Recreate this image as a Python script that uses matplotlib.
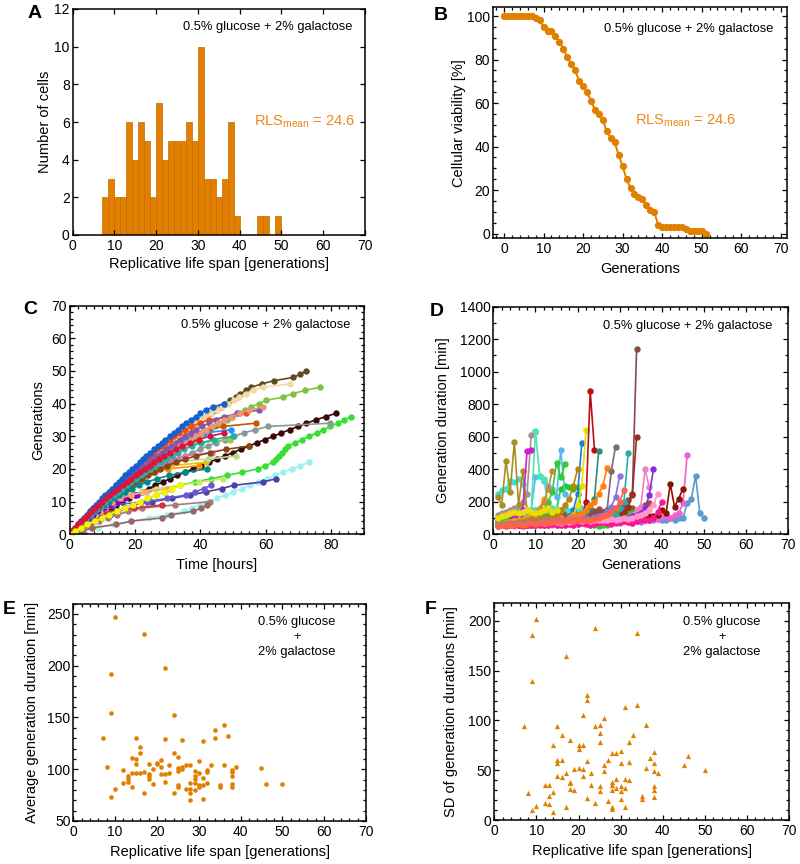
import numpy as np
import matplotlib
matplotlib.use("Agg")
import matplotlib.pyplot as plt
from matplotlib.ticker import MultipleLocator

plt.rcParams['font.family'] = ['Liberation Sans', 'DejaVu Sans']
plt.rcParams['mathtext.fontset'] = 'custom'
plt.rcParams['mathtext.rm'] = 'Liberation Sans'
plt.rcParams['mathtext.it'] = 'Liberation Sans:italic'

ORANGE = '#e07f00'
TXT_OR = '#e8891a'

# ---------------- Panel A: histogram of replicative life span ----------------
rls_min, rls_max = 7, 50
hist_counts = [2, 3, 2, 2, 6, 4, 6, 5, 2, 7, 4, 5, 5, 5, 6, 5, 10, 3, 3, 2,
               3, 6, 1, 0, 0, 0, 1, 1, 0, 1]

# ---------------- Panel B: survival curve ----------------
viability = [100, 100, 100, 100, 100, 100, 100, 100, 99, 98,
             95, 93, 93, 91, 88, 85, 81, 78, 75, 70,
             68, 65, 61, 57, 55, 52, 47, 44, 42, 36,
             31, 25, 21, 18, 17, 16, 13, 11, 10, 4,
             3, 3, 3, 3, 3, 3, 2, 1, 1, 1, 1, 0]

# ---------------- Panels C/D: generation durations [min] per cell ----------------
dur_01 = [70, 60, 65, 55, 60, 65, 70, 60, 65, 60, 65, 70, 60, 65, 70, 60, 65, 70, 75, 65,
          70, 75, 70, 80, 75, 70, 75, 80, 75, 70, 80, 75, 70, 80, 75, 85, 90, 85, 95, 90,
          85, 100, 90, 100, 100, 190, 220, 360, 130, 100]
dur_02 = [60, 55, 65, 60, 55, 60, 65, 60, 55, 60, 65, 60, 70, 65, 60, 65, 70, 65, 60, 70,
          75, 70, 65, 75, 80, 70, 75, 80, 85, 75, 80, 85, 90, 85, 80, 95, 90, 100, 95, 105,
          110, 100, 120, 130, 190, 490]
dur_03 = [65, 60, 70, 65, 60, 70, 75, 65, 70, 75, 70, 80, 75, 70, 80, 85, 75, 80, 85, 90,
          80, 85, 90, 95, 85, 90, 95, 100, 90, 95, 100, 105, 95, 100, 110, 105, 115, 110, 120,
          150, 130, 310, 170, 220, 280]
dur_04 = [80, 90, 85, 95, 100, 90, 105, 110, 100, 115, 120, 110, 125, 130, 120, 135, 130, 140, 135,
          150, 145, 140, 150, 145, 155, 140, 150, 145, 155, 150, 145, 150, 160, 150, 170, 180, 190]
dur_05 = [100, 110, 120, 130, 140, 140, 150, 130, 140, 150, 135, 140, 145, 140, 150,
          280, 300, 290, 280, 290, 130, 140, 60, 55, 50, 60, 55,
          130, 125, 135, 130, 125, 130, 135, 120, 130]
dur_06 = [250, 270, 280, 330, 320, 340, 310, 150, 145, 150, 160, 150, 145, 160, 155, 150,
          160, 145, 150, 155, 160, 155]
dur_07 = [100, 110, 120, 130, 140, 150, 130, 140, 150, 350, 360, 330, 300, 280, 230, 520, 250]
dur_08 = [120, 130, 140, 150, 160, 180, 200, 250, 610, 630]
dur_09 = [230, 180, 450, 260, 570, 180, 390, 150, 120]
dur_10 = [70, 80, 75, 85, 80, 90, 85, 90, 140, 635, 360, 340, 180, 150, 140]
dur_11 = [70, 75, 80, 90, 100, 110, 150, 510, 520]
dur_12 = [60, 65, 70, 60, 65, 70, 75, 70, 80, 75, 80, 85, 90, 80, 85, 90, 100, 110, 150, 250, 560]
dur_13 = [55, 60, 65, 60, 55, 60, 65, 70, 60, 65, 70, 75, 70, 80, 75, 80, 90, 100, 120, 180, 300, 640]
dur_14 = [60, 55, 60, 65, 60, 55, 60, 65, 70, 60, 65, 70, 65, 70, 75, 70, 80, 75, 85, 90,
          100, 200, 880, 520]
dur_15 = [60, 65, 60, 70, 65, 70, 75, 70, 80, 75, 85, 80, 90, 85, 95, 90, 100, 95, 105, 110,
          115, 120, 125, 130, 140, 135, 150, 145, 160, 170, 180, 210, 240, 1140]
dur_16 = [60, 55, 60, 55, 60, 65, 60, 65, 60, 65, 70, 65, 70, 65, 70, 75, 70, 75, 80, 75,
          80, 85, 80, 90, 85, 90, 95, 100, 110, 120, 140, 170, 250, 600]
dur_17 = [60, 65, 60, 70, 65, 60, 70, 65, 75, 70, 75, 70, 80, 75, 80, 85, 80, 90, 95, 100,
          110, 130, 160, 220, 510]
dur_18 = [55, 60, 65, 60, 55, 60, 65, 70, 65, 60, 70, 65, 70, 75, 70, 65, 75, 70, 80, 75,
          80, 85, 90, 85, 95, 100, 150, 390, 540]
dur_19 = [55, 60, 55, 60, 65, 60, 55, 60, 65, 70, 65, 60, 65, 70, 75, 70, 65, 70, 75, 80,
          75, 80, 85, 80, 90, 85, 95, 100, 120, 160, 200, 500]
dur_20 = [50, 55, 60, 55, 50, 55, 60, 55, 60, 55, 60, 65, 60, 55, 60, 65, 60, 65, 70, 65,
          70, 65, 70, 75, 70, 75, 80, 75, 80, 85, 90, 100, 120, 150, 170, 400, 290]
dur_21 = [55, 60, 55, 60, 55, 60, 65, 60, 65, 60, 65, 70, 65, 70, 65, 70, 75, 70, 75, 80,
          75, 80, 75, 80, 85, 80, 85, 90, 85, 90, 95, 100, 110, 120, 130, 160, 240, 400]
dur_22 = [50, 55, 50, 55, 60, 55, 50, 55, 60, 55, 60, 55, 60, 65, 60, 55, 60, 65, 60, 65,
          70, 65, 60, 65, 70, 75, 70, 65, 70, 75, 80, 75, 70, 80, 85, 90, 85, 100, 140, 200]
dur_23 = [65, 60, 65, 70, 65, 70, 65, 70, 75, 70, 75, 70, 75, 80, 75, 70, 80, 75, 80, 85,
          80, 85, 80, 90, 85, 90, 85, 95, 90, 95, 100, 95, 100, 110, 120, 130, 150, 180, 250]
dur_24 = [60, 65, 70, 65, 70, 75, 70, 80, 75, 80, 85, 80, 90, 85, 95, 100, 90, 100, 110, 120,
          130, 150, 180, 200, 250, 300, 410]
dur_25 = [70, 75, 80, 75, 80, 90, 85, 95, 100, 110, 120, 150, 200, 260, 440, 350, 430]
dur_26 = [60, 65, 70, 75, 80, 85, 90, 100, 110, 130, 160, 220]
dur_27 = [55, 60, 65, 60, 70, 75, 80, 90, 100, 120, 150, 200, 280, 390]
dur_28 = [60, 65, 60, 70, 65, 75, 70, 80, 85, 90, 95, 100, 110, 120, 130, 150, 180, 220, 300, 400]
dur_29 = [55, 60, 65, 60, 65, 70, 65, 70, 75, 70, 75, 80, 75, 80, 85, 80, 85, 90, 85, 90,
          95, 100, 95, 105, 110, 120, 140, 170, 230, 360]
dur_30 = [50, 55, 60, 55, 60, 65, 60, 65, 70, 65, 70, 75, 70, 75, 80, 75, 80, 85, 80, 85,
          90, 85, 90, 95, 100, 110, 120, 140, 160, 200, 270]
dur_31 = [100, 110, 120, 130, 140, 130, 140, 150, 140, 130, 140, 150, 160, 140, 150]

cells = [dur_01, dur_02, dur_03, dur_04, dur_05, dur_06, dur_07, dur_08, dur_09, dur_10,
         dur_11, dur_12, dur_13, dur_14, dur_15, dur_16, dur_17, dur_18, dur_19, dur_20,
         dur_21, dur_22, dur_23, dur_24, dur_25, dur_26, dur_27, dur_28, dur_29, dur_30, dur_31]

colors_C = ['#5b4d1c', '#f2dba6', '#7dc242', '#3a0808', '#33e033', '#a0f0f0', '#4b3fa6', '#a87880',
            '#996666', '#6a5acd', '#d03040', '#ff8c00', '#e8c000', '#b8d890', '#8a9a9a', '#cc5500',
            '#ff69b4', '#9acd32', '#1e90ff', '#ff4500', '#8855aa', '#1560d0', '#e9967a', '#8b4513',
            '#c8e86a', '#9400d3', '#ffa07a', '#008b8b', '#20b2aa', '#dc143c', '#f5f500']
colors_D = ['#5b9bd0', '#f060d0', '#8c1400', '#a0522d', '#22cc22', '#40e0d0', '#55bbee', '#a89090',
            '#a89020', '#48e8b0', '#d020d0', '#1a7ee0', '#e8e000', '#b81010', '#8b4a4a', '#993020',
            '#2e8b7a', '#7a6a80', '#20b2aa', '#f080c0', '#8a2be2', '#ff1493', '#ff99cc', '#ff7f0e',
            '#33cc33', '#ffa500', '#cd853f', '#b8860b', '#9370db', '#ff6347', '#eedd00']

# ---------------- Panel E: average generation duration vs RLS ----------------
E_rls = [7, 8, 9, 9, 9, 10, 10, 12, 12, 13, 13, 13, 14, 14, 14, 15, 15, 15, 15, 16, 16, 16,
         17, 17, 17, 18, 18, 18, 18, 19, 19, 20, 20, 21, 21, 21, 22, 22, 22, 22, 23, 23,
         24, 24, 24, 25, 25, 25, 25, 25, 26, 26, 26, 27, 27, 28, 28, 28, 28, 28,
         29, 29, 29, 29, 29, 30, 30, 30, 30, 31, 31, 31, 31, 32, 32, 32, 33, 34, 34,
         35, 35, 36, 36, 37, 38, 38, 38, 38, 38, 39, 45, 46, 50]
E_avg = [130, 102, 73, 154, 192, 247, 81, 99, 87, 93, 91, 88, 111, 96, 83, 130, 110, 105, 96,
         121, 116, 96, 231, 97, 77, 105, 95, 93, 91, 86, 100, 106, 105, 109, 102, 95,
         198, 129, 95, 88, 104, 96, 152, 116, 77, 112, 101, 98, 85, 83, 128, 102, 100,
         104, 81, 104, 87, 81, 77, 70, 98, 93, 91, 80, 87, 108, 96, 85, 83, 127, 92, 85, 71,
         99, 97, 87, 104, 138, 130, 85, 83, 143, 104, 132, 99, 97, 93, 86, 83, 102, 101, 86, 86]

# ---------------- Panel F: SD of generation durations vs RLS ----------------
F_rls = [7, 8, 9, 9, 9, 10, 10, 12, 12, 13, 13, 13, 14, 14, 14, 15, 15, 15, 15, 16, 16, 16,
         17, 17, 17, 18, 18, 18, 18, 19, 19, 20, 20, 20, 21, 21, 21, 21, 22, 22, 22, 22,
         23, 23, 24, 24, 24, 25, 25, 25, 25, 25, 26, 26, 26, 27, 27, 28, 28, 28, 28, 28, 28,
         29, 29, 29, 30, 30, 30, 30, 30, 31, 31, 31, 31, 32, 32, 32, 33, 34, 34, 35, 35,
         36, 36, 37, 38, 38, 38, 38, 38, 38, 39, 45, 46, 50]
F_sd = [94, 27, 186, 140, 10, 202, 14, 35, 17, 35, 24, 16, 75, 28, 8, 94, 60, 57, 44, 85, 60, 43,
        165, 47, 13, 80, 38, 37, 31, 51, 30, 75, 71, 52, 75, 105, 51, 44, 126, 121, 59, 22,
        47, 35, 193, 94, 17, 95, 87, 78, 34, 29, 102, 55, 49, 60, 19, 67, 38, 35, 30, 13, 11,
        67, 41, 32, 69, 57, 34, 29, 21, 114, 41, 32, 13, 78, 58, 40, 85, 188, 116, 24, 21,
        95, 52, 62, 68, 57, 49, 34, 30, 23, 47, 55, 64, 50]

COND = '0.5% glucose + 2% galactose'
RLS_TXT = r'RLS$_{\mathrm{mean}}$ = 24.6'

W, H = 800, 864
fig = plt.figure(figsize=(W / 100, H / 100), dpi=100)

TICK_FS = 10
LAB_FS = 10.5


def px_axes(l, t, r, b):
    return fig.add_axes([l / W, 1 - b / H, (r - l) / W, (b - t) / H])


def style(ax, minor_x=None, minor_y=None):
    ax.tick_params(which='both', direction='in', top=True, right=True, labelsize=TICK_FS,
                   length=3.5, width=0.9)
    ax.tick_params(axis='y', which='both', pad=2)
    ax.tick_params(axis='x', which='both', pad=3)
    ax.tick_params(which='minor', length=2)
    if minor_x:
        ax.xaxis.set_minor_locator(MultipleLocator(minor_x))
    if minor_y:
        ax.yaxis.set_minor_locator(MultipleLocator(minor_y))
    for s in ax.spines.values():
        s.set_linewidth(1.1)


def ftext(x, y, s, **kw):
    fig.text(x / W, 1 - y / H, s, **kw)


# Panel A
axA = px_axes(72.5, 9, 365, 235)
edges = np.linspace(rls_min, rls_max, len(hist_counts) + 1)
axA.bar(edges[:-1], hist_counts, width=np.diff(edges), align='edge', color=ORANGE,
        edgecolor='#c46c00', linewidth=0.5)
axA.set_xlim(0, 70)
axA.set_ylim(0, 12)
axA.set_xticks(range(0, 71, 10))
axA.set_yticks(range(0, 13, 2))
style(axA)
axA.set_xlabel('Replicative life span [generations]', fontsize=LAB_FS, labelpad=3)
axA.set_ylabel('Number of cells', fontsize=LAB_FS, labelpad=1.5)

# Panel B
axB = px_axes(493, 7.3, 787, 238)
gensB = np.arange(len(viability))
axB.plot(gensB, viability, '-o', color=ORANGE, lw=1.4, ms=4.2, mec=ORANGE)
axB.set_xlim(-2.8, 71.6)
axB.set_ylim(-2, 104)
axB.set_xticks(range(0, 71, 10))
axB.set_yticks(range(0, 101, 20))
style(axB, 2, 5)
axB.set_xlabel('Generations', fontsize=LAB_FS, labelpad=4)
axB.set_ylabel('Cellular viability [%]', fontsize=LAB_FS, labelpad=0.8)

# Panel C
axC = px_axes(69.5, 305.5, 364, 534.3)
for dur, col in zip(cells, colors_C):
    t = np.concatenate([[0], np.cumsum(dur)]) / 60.0
    g = np.arange(len(dur) + 1)
    axC.plot(t, g, '-o', color=col, lw=1.2, ms=3.6, mec=col)
axC.set_xlim(0, 90)
axC.set_ylim(0, 70)
axC.set_xticks(range(0, 81, 20))
axC.set_yticks(range(0, 71, 10))
style(axC, 2.5, 2)
axC.set_xlabel('Time [hours]', fontsize=LAB_FS, labelpad=4)
axC.set_ylabel('Generations', fontsize=LAB_FS, labelpad=4.5)

# Panel D
axD = px_axes(493.3, 306.7, 788.3, 534.3)
for dur, col in zip(cells, colors_D):
    g = np.arange(1, len(dur) + 1)
    axD.plot(g, dur, '-o', color=col, lw=1.2, ms=3.6, mec=col)
axD.set_xlim(0, 70)
axD.set_ylim(0, 1400)
axD.set_xticks(range(0, 71, 10))
axD.set_yticks(range(0, 1401, 200))
style(axD, 2, 100)
axD.set_xlabel('Generations', fontsize=LAB_FS, labelpad=4)
axD.set_ylabel('Generation duration [min]', fontsize=LAB_FS, labelpad=6.5)

# Panel E
axE = px_axes(73.3, 603.5, 366, 821)
axE.scatter(E_rls, E_avg, s=11, color=ORANGE, linewidths=0)
axE.set_xlim(0, 70)
axE.set_ylim(50, 260)
axE.set_xticks(range(0, 71, 10))
axE.set_yticks(range(50, 251, 50))
style(axE, 2, 10)
axE.set_xlabel('Replicative life span [generations]', fontsize=LAB_FS, labelpad=4)
axE.set_ylabel('Average generation duration [min]', fontsize=LAB_FS, labelpad=6)

# Panel F
axF = px_axes(494.3, 603, 789, 820)
axF.scatter(F_rls, F_sd, s=14, color=ORANGE, marker='^', linewidths=0)
axF.set_xlim(0, 70)
axF.set_ylim(0, 218)
axF.set_xticks(range(0, 71, 10))
axF.set_yticks(range(0, 201, 50))
style(axF, 2, 10)
axF.set_xlabel('Replicative life span [generations]', fontsize=LAB_FS, labelpad=4)
axF.set_ylabel('SD of generation durations [min]', fontsize=LAB_FS, labelpad=7.5)

# Annotations
ftext(352, 27, COND, fontsize=9.3, ha='right', va='center')
ftext(254, 122, RLS_TXT, fontsize=10.5, ha='left', va='center', color=TXT_OR)
ftext(773, 29, COND, fontsize=9.3, ha='right', va='center')
ftext(635, 121, RLS_TXT, fontsize=10.5, ha='left', va='center', color=TXT_OR)
ftext(350, 325, COND, fontsize=9.3, ha='right', va='center')
ftext(772, 326, COND, fontsize=9.3, ha='right', va='center')
ftext(297, 637, '0.5% glucose\n+\n2% galactose', fontsize=9.3, ha='center', va='center',
      linespacing=1.3)
ftext(722, 637, '0.5% glucose\n+\n2% galactose', fontsize=9.3, ha='center', va='center',
      linespacing=1.3)

# Panel letters
for lab, x, y in [('A', 35, 14), ('B', 441, 15), ('C', 30, 309), ('D', 437, 311),
                  ('E', 9, 610), ('F', 431, 609)]:
    ftext(x, y, lab, fontsize=14, fontweight='bold', ha='center', va='center')

fig.savefig('out.png', dpi=100)
